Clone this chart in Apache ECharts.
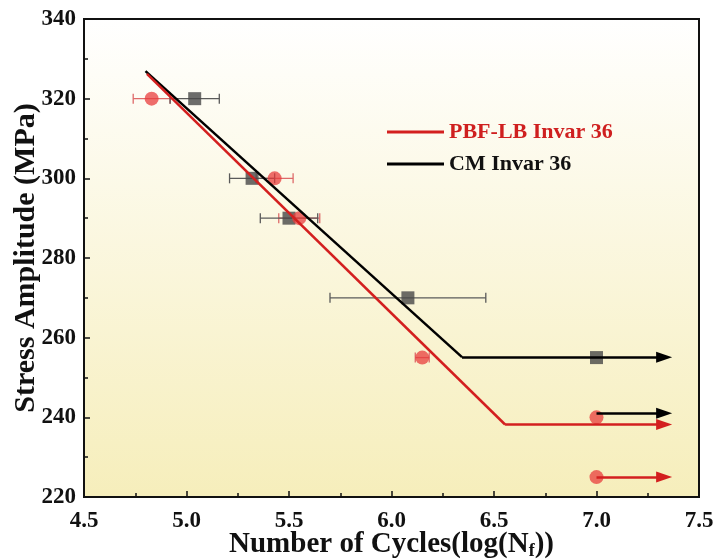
<!DOCTYPE html>
<html>
<head>
<meta charset="utf-8">
<script src="https://cdn.jsdelivr.net/npm/echarts@6/dist/echarts.min.js"></script>
<style>
  html, body { margin: 0; padding: 0; background: #ffffff; }
  #chart { width: 717px; height: 559px; }
</style>
</head>
<body>
<div id="chart"></div>
<script>
// Fatigue data: [log(Nf), stress amplitude (MPa), half-width of log(Nf) scatter]
const pbfPoints = [[4.83, 320, 0.09], [5.43, 300, 0.09], [5.55, 290, 0.10], [6.15, 255, 0.034], [7.0, 240, 0], [7.0, 225, 0]];
const cmPoints = [[5.04, 320, 0.12], [5.32, 300, 0.11], [5.50, 290, 0.14], [6.08, 270, 0.38], [7.0, 255, 0]];

// Basquin fit lines down to the endurance limit
const pbfFit = [[4.807, 326.2], [6.554, 238.2]];
const cmFit = [[4.80, 326.9], [6.344, 255.1]];

// Run-out arrows: [start x, end x, stress]
const pbfRunouts = [[6.554, 7.33, 238.2], [7.0, 7.33, 225]];
const cmRunouts = [[6.344, 7.33, 255.1], [7.0, 7.33, 241]];

const xTicks = { min: 4.5, max: 7.5, interval: 0.5 };
const yTicks = { min: 220, max: 340, interval: 20 };

const RED_LINE = '#d31f1f';
const RED_PT = 'rgba(232,58,58,0.92)';
const RED_ERR = '#de6a6a';
const GRAY_PT = '#474747';
const GRAY_ERR = '#5a5a5a';
const FONT = '"Liberation Serif", "Times New Roman", serif';

const chart = echarts.init(document.getElementById('chart'));

function errorBars(points, color) {
  return {
    type: 'custom',
    silent: true,
    z: 2,
    data: points.filter(p => p[2] > 0),
    renderItem: function (params, api) {
      const x = api.value(0), y = api.value(1), e = api.value(2);
      const a = api.coord([x - e, y]);
      const b = api.coord([x + e, y]);
      const h = 5;
      const style = { stroke: color, lineWidth: 1.3 };
      return {
        type: 'group',
        children: [
          { type: 'line', shape: { x1: a[0], y1: a[1], x2: b[0], y2: b[1] }, style: style },
          { type: 'line', shape: { x1: a[0], y1: a[1] - h, x2: a[0], y2: a[1] + h }, style: style },
          { type: 'line', shape: { x1: b[0], y1: b[1] - h, x2: b[0], y2: b[1] + h }, style: style }
        ]
      };
    }
  };
}

function runoutLines(runouts) {
  return runouts.map(r => [
    { coord: [r[0], r[2]], symbol: 'none' },
    { coord: [r[1], r[2]], symbol: 'triangle', symbolSize: [11, 16], symbolRotate: -90 }
  ]);
}

chart.setOption({
  animation: false,
  grid: {
    left: 84, top: 19, width: 615, height: 478,
    containLabel: false,
    outerBoundsMode: 'none',
    show: true,
    borderColor: '#111',
    borderWidth: 2,
    backgroundColor: new echarts.graphic.LinearGradient(0, 0, 0, 1, [
      { offset: 0, color: '#ffffff' },
      { offset: 1, color: '#f6eebb' }
    ])
  },
  legend: {
    orient: 'vertical',
    left: 382, top: 116,
    itemWidth: 57, itemHeight: 3,
    itemGap: 10,
    icon: 'rect',
    textStyle: { fontFamily: FONT, fontWeight: 'bold', fontSize: 22, padding: [0, 0, 0, 0] },
    data: [
      { name: 'PBF-LB Invar 36', textStyle: { color: '#cf1f1f' } },
      { name: 'CM Invar 36', textStyle: { color: '#111' } }
    ]
  },
  xAxis: {
    type: 'value',
    min: xTicks.min, max: xTicks.max, interval: xTicks.interval,
    name: 'Number of Cycles(log(N{sub|f}))',
    nameLocation: 'middle',
    nameGap: 33,
    nameMoveOverlap: false,
    nameTextStyle: {
      fontFamily: FONT, fontWeight: 'bold', fontSize: 29, color: '#111',
      rich: { sub: { fontFamily: FONT, fontWeight: 'bold', fontSize: 18, color: '#111', verticalAlign: 'bottom', padding: [12, 0, 0, 0] } }
    },
    axisLine: { lineStyle: { color: '#111', width: 2 } },
    axisTick: { inside: true, length: 6, lineStyle: { color: '#111', width: 1.5 } },
    minorTick: { show: true, splitNumber: 2, length: 4, lineStyle: { color: '#111', width: 1.5 } },
    splitLine: { show: false },
    axisLabel: {
      fontFamily: FONT, fontWeight: 'bold', fontSize: 23, color: '#111', margin: 13,
      formatter: v => v.toFixed(1)
    }
  },
  yAxis: {
    type: 'value',
    min: yTicks.min, max: yTicks.max, interval: yTicks.interval,
    name: 'Stress Amplitude (MPa)',
    nameLocation: 'middle',
    nameGap: 43,
    nameMoveOverlap: false,
    nameTextStyle: { fontFamily: FONT, fontWeight: 'bold', fontSize: 30, color: '#111' },
    axisLine: { lineStyle: { color: '#111', width: 2 } },
    axisTick: { inside: true, length: 6, lineStyle: { color: '#111', width: 1.5 } },
    minorTick: { show: true, splitNumber: 2, length: 4, lineStyle: { color: '#111', width: 1.5 } },
    splitLine: { show: false },
    axisLabel: { fontFamily: FONT, fontWeight: 'bold', fontSize: 23, color: '#111', margin: 8 }
  },
  series: [
    errorBars(pbfPoints, RED_ERR),
    errorBars(cmPoints, GRAY_ERR),
    {
      name: 'CM Invar 36 data',
      type: 'scatter',
      z: 3,
      symbol: 'rect',
      symbolSize: 13,
      itemStyle: { color: GRAY_PT },
      data: cmPoints.map(p => [p[0], p[1]])
    },
    {
      name: 'PBF-LB Invar 36 data',
      type: 'scatter',
      z: 4,
      symbol: 'circle',
      symbolSize: 14,
      itemStyle: { color: RED_PT },
      data: pbfPoints.map(p => [p[0], p[1]])
    },
    {
      name: 'CM Invar 36',
      type: 'line',
      z: 5,
      symbol: 'none',
      lineStyle: { color: '#000', width: 2.5 },
      itemStyle: { color: '#000' },
      data: cmFit,
      markLine: {
        silent: true,
        symbol: ['none', 'triangle'],
        label: { show: false },
        lineStyle: { color: '#000', width: 2.5, type: 'solid' },
        emphasis: { disabled: true },
        data: runoutLines(cmRunouts)
      }
    },
    {
      name: 'PBF-LB Invar 36',
      type: 'line',
      z: 6,
      symbol: 'none',
      lineStyle: { color: RED_LINE, width: 2.5 },
      itemStyle: { color: RED_LINE },
      data: pbfFit,
      markLine: {
        silent: true,
        symbol: ['none', 'triangle'],
        label: { show: false },
        lineStyle: { color: RED_LINE, width: 2.5, type: 'solid' },
        emphasis: { disabled: true },
        data: runoutLines(pbfRunouts)
      }
    }
  ]
});
</script>
</body>
</html>
